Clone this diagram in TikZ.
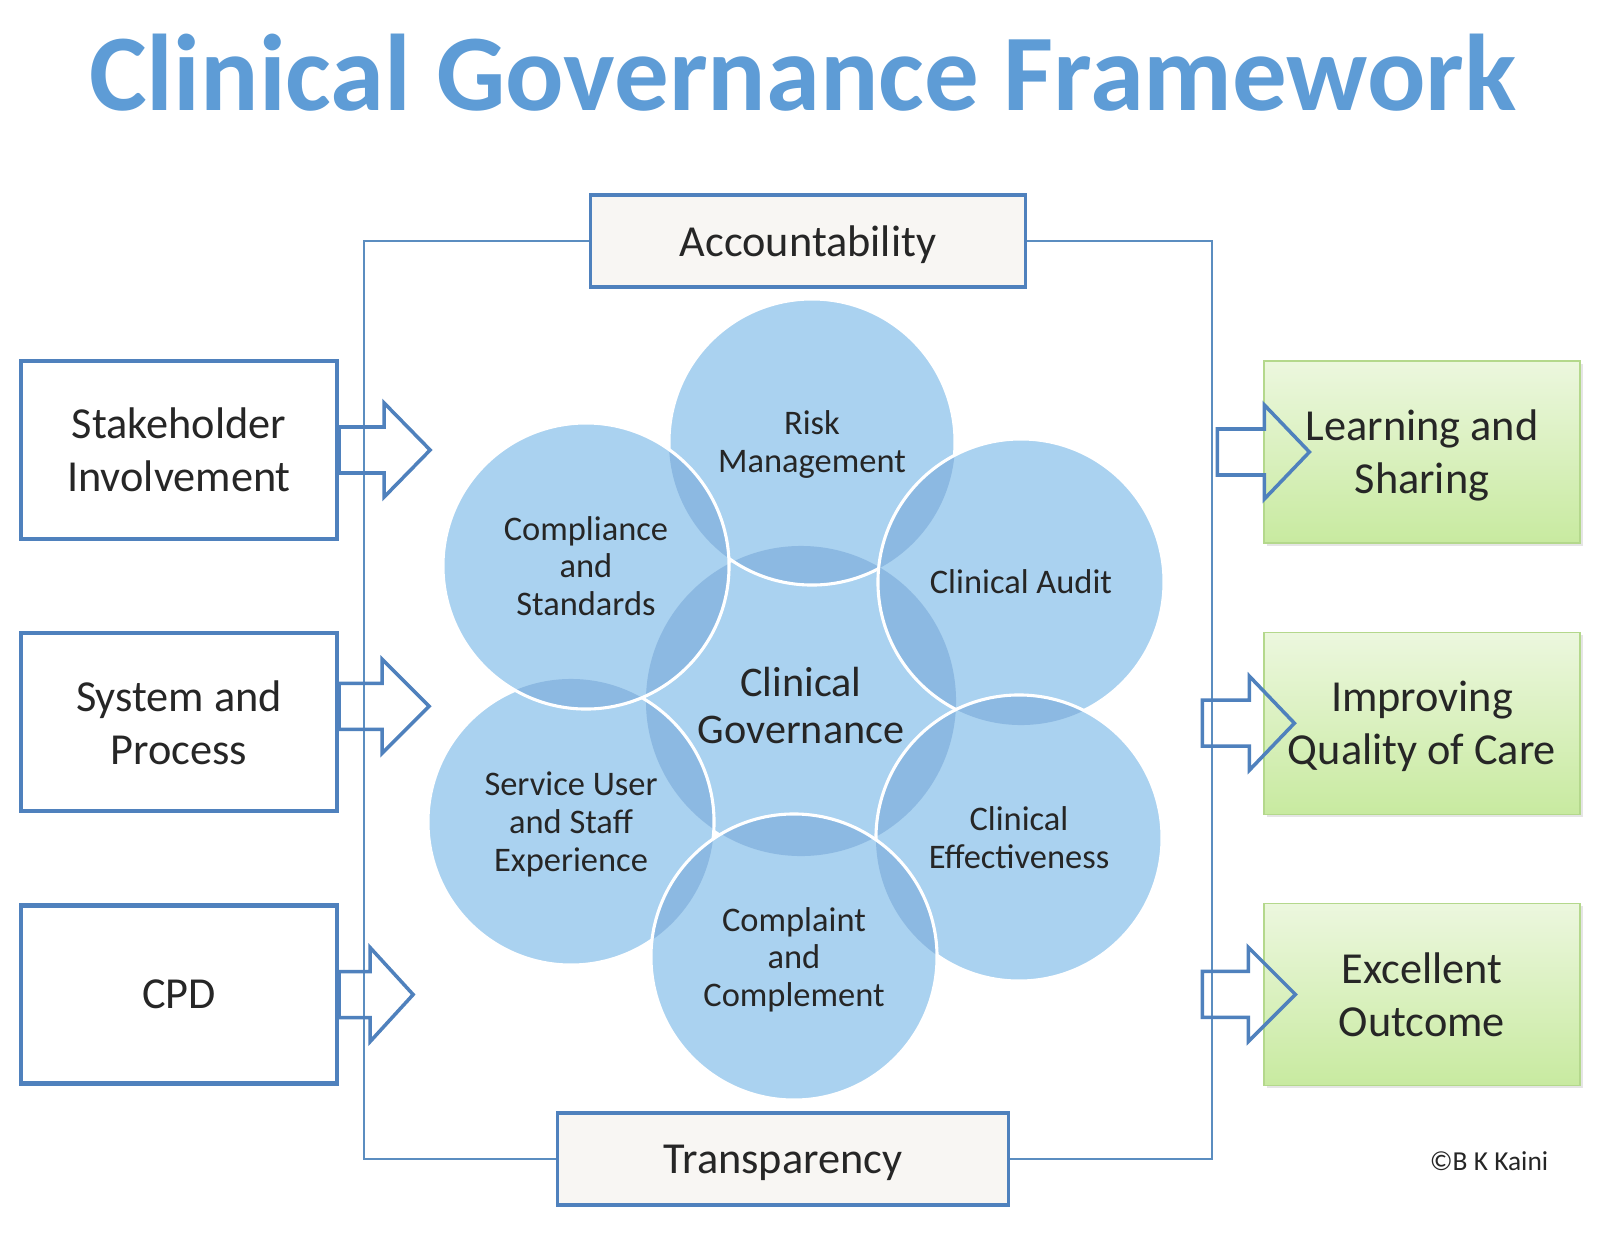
\documentclass[tikz,border=0pt]{standalone}
\usepackage{fontspec}
\setmainfont{Carlito}
\usetikzlibrary{positioning, calc, shadows}

\definecolor{titleblue}{RGB}{94,156,214}
\definecolor{boxblue}{RGB}{79,129,189}
\definecolor{lineblue}{RGB}{91,141,192}
\definecolor{cirfill}{RGB}{170,210,240}
\definecolor{cirlens}{RGB}{140,185,226}
\definecolor{txtgray}{RGB}{38,38,38}
\definecolor{palegray}{RGB}{248,246,243}
\definecolor{greentop}{RGB}{236,247,222}
\definecolor{greenbot}{RGB}{200,234,160}
\definecolor{greenedge}{RGB}{180,216,140}

\pgfdeclarelayer{background}
\pgfsetlayers{background,main}

\newcommand{\titlefont}{\fontsize{77.5}{80}\selectfont\bfseries}
\newcommand{\boxfont}{\fontsize{31.5}{37.7}\selectfont}
\newcommand{\petalfont}{\fontsize{24.5}{27}\selectfont}
\newcommand{\hubfont}{\fontsize{30}{33}\selectfont}
\newcommand{\creditfont}{\fontsize{19.5}{22}\selectfont}

% one petal: fill, darker lens with the circles below it, white rim
\newcommand{\petalfill}[2]{%
  \fill[cirfill] let \p1=($(#1.east)-(#1.center)$) in (#1.center) circle[radius=\x1];
  \begin{scope}
    \clip let \p1=($(#1.east)-(#1.center)$) in (#1.center) circle[radius=\x1];
    \foreach \low in {#2} {
      \fill[cirlens] let \p1=($(\low.east)-(\low.center)$) in (\low.center) circle[radius=\x1];
    }
  \end{scope}
  \draw[petalrim] let \p1=($(#1.east)-(#1.center)$) in (#1.center) circle[radius=\x1];
}

\begin{document}
\begin{tikzpicture}[x=0.025cm, y=-0.025cm,
        inbox/.style = {draw=boxblue, line width=3pt, fill=white, minimum width=7.9cm,
                        minimum height=4.45cm, align=center, font=\boxfont, text=txtgray, text depth=0pt},
        outbox/.style = {draw=greenedge, line width=0.8pt, top color=greentop, bottom color=greenbot,
                         minimum width=7.9cm, minimum height=4.55cm, align=center, font=\boxfont,
                         text=txtgray, text depth=0pt,
                         drop shadow={opacity=0.2, shadow xshift=2pt, shadow yshift=-2pt}},
        valuebox/.style = {draw=boxblue, line width=2.2pt, fill=palegray, minimum height=2.3cm,
                           font=\boxfont, text=txtgray, text depth=0pt},
        petal/.style = {circle, minimum size=7.15cm, inner sep=0pt, outer sep=0pt, align=center,
                        font=\petalfont, text=txtgray, text depth=0pt},
        hub/.style = {circle, minimum size=7.75cm, inner sep=0pt, outer sep=0pt, align=center,
                      font=\hubfont, text=txtgray},
        petalrim/.style = {draw=white, line width=2.2pt},
        frameline/.style = {draw=lineblue, line width=0.9pt},
        arrowline/.style = {draw=boxblue, line width=2.5pt, line join=miter},
        pics/fatarrow/.style 2 args = {code={
            \draw[arrowline] (0,-23) -- (#1,-23) -- (#1,-47) -- (#1+#2,0) -- (#1,47) -- (#1,23) -- (0,23) -- cycle;
        }},
        ]
        \begin{pgfonlayer}{background}
            \fill[white] (0,0) rectangle (1600,1236);
        \end{pgfonlayer}
        \useasboundingbox (0,0) rectangle (1600,1236);

        \node[font=\titlefont, text=titleblue, anchor=base] (title) at (803,110) {Clinical Governance Framework};

        \node[valuebox, minimum width=10.875cm] (acc) at (808,241) {Accountability};
        \node[valuebox, minimum width=11.275cm] (trans) at (783,1159) {Transparency};

        \node[inbox] (stake) at (179,450) {Stakeholder\\Involvement};
        \node[inbox, below=2.25cm of stake] (sys) {System and\\Process};
        \node[inbox, below=2.25cm of sys] (cpd) {CPD};

        \node[outbox] (learn) at (1422,452) {Learning and\\Sharing};
        \node[outbox, below=2.2cm of learn] (improve) {Improving\\Quality of Care};
        \node[outbox, below=2.2cm of improve] (excel) {Excellent\\Outcome};

        % circles
        \node[hub] (hub) at (801,701) {\\[-6pt]Clinical\\Governance};
        \node[petal] (risk) at (812,442) {Risk\\Management};
        \node[petal] (audit) at (1021,582) {Clinical Audit};
        \node[petal] (effect) at (1019,838) {Clinical\\Effectiveness};
        \node[petal] (complaint) at (794,957) {Complaint\\and\\Complement};
        \node[petal] (service) at (571,822) {Service User\\and Staff\\Experience};
        \node[petal] (comply) at (586,566) {Compliance\\and\\Standards};

        \begin{pgfonlayer}{background}
            \fill[cirfill] (hub.center) circle[radius=3.875cm];
            \petalfill{risk}{hub}
            \petalfill{service}{hub}
            \petalfill{audit}{hub,risk}
            \petalfill{effect}{hub,audit}
            \petalfill{complaint}{hub,effect,service}
            \petalfill{comply}{hub,risk,service}
        \end{pgfonlayer}

        % frame
        \coordinate (frameL) at (364,700);
        \coordinate (frameR) at (1212,700);
        \draw[frameline] (acc.west) -| (frameL) |- (trans.west);
        \draw[frameline] (acc.east) -| (frameR) |- (trans.east);

        % block arrows
        \pic at (stake.east) {fatarrow={45}{46}};
        \pic at ($(sys.east)+(0,-16)$) {fatarrow={43}{47}};
        \pic at (cpd.east) {fatarrow={31}{43}};
        \pic at ($(learn.west)+(-46,0)$) {fatarrow={47}{45}};
        \pic at ($(improve.west)+(-61,0)$) {fatarrow={47}{45}};
        \pic at ($(excel.west)+(-61,0)$) {fatarrow={46}{47}};

        \node[font=\creditfont, text=txtgray] (credit) at (1489,1161) {©B K Kaini};
    \end{tikzpicture}
\end{document}
